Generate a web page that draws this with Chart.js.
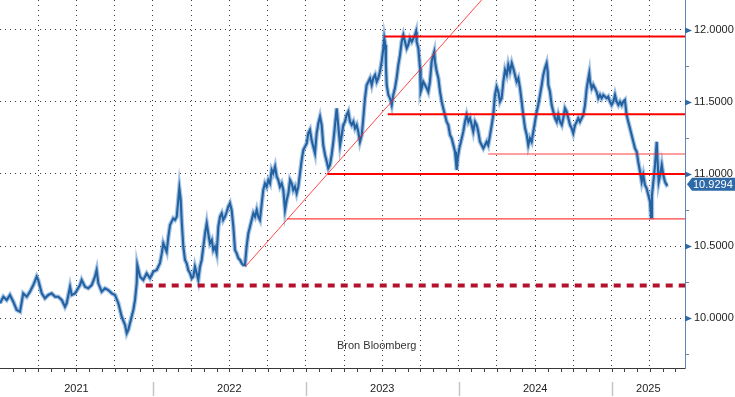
<!DOCTYPE html>
<html>
<head>
<meta charset="utf-8">
<script src="https://cdn.jsdelivr.net/npm/chart.js@4.4.1/dist/chart.umd.min.js"></script>
<style>
  html, body { margin: 0; padding: 0; background: #fff; }
  #wrap { width: 735px; height: 397px; }
</style>
</head>
<body>
<div id="wrap"><canvas id="chart" width="735" height="397"></canvas></div>
<script>
// koersdata (decimale jaren / koers)
const priceDates = [
  2021.000, 2021.022, 2021.044, 2021.065, 2021.087, 2021.109, 2021.131, 2021.152, 2021.175, 2021.196,
  2021.218, 2021.240, 2021.250, 2021.273, 2021.294, 2021.316, 2021.338, 2021.360, 2021.381, 2021.404,
  2021.425, 2021.436, 2021.458, 2021.469, 2021.491, 2021.523, 2021.534, 2021.556, 2021.577, 2021.600,
  2021.621, 2021.632, 2021.643, 2021.665, 2021.687, 2021.708, 2021.731, 2021.752, 2021.774, 2021.785,
  2021.796, 2021.818, 2021.829, 2021.839, 2021.850, 2021.872, 2021.883, 2021.894, 2021.898, 2021.916,
  2021.937, 2021.959, 2021.981, 2022.003, 2022.025, 2022.046, 2022.058, 2022.068, 2022.090, 2022.101,
  2022.112, 2022.133, 2022.145, 2022.156, 2022.166, 2022.173, 2022.182, 2022.188, 2022.199, 2022.210,
  2022.221, 2022.231, 2022.243, 2022.254, 2022.264, 2022.275, 2022.286, 2022.297, 2022.308, 2022.319,
  2022.330, 2022.341, 2022.352, 2022.362, 2022.373, 2022.385, 2022.395, 2022.406, 2022.417, 2022.428,
  2022.439, 2022.450, 2022.460, 2022.472, 2022.483, 2022.493, 2022.504, 2022.515, 2022.526, 2022.537,
  2022.548, 2022.559, 2022.570, 2022.581, 2022.591, 2022.602, 2022.613, 2022.624, 2022.635, 2022.646,
  2022.657, 2022.668, 2022.679, 2022.689, 2022.700, 2022.712, 2022.722, 2022.733, 2022.744, 2022.755,
  2022.766, 2022.777, 2022.787, 2022.799, 2022.810, 2022.820, 2022.831, 2022.842, 2022.853, 2022.864,
  2022.875, 2022.886, 2022.897, 2022.908, 2022.918, 2022.929, 2022.940, 2022.951, 2022.962, 2022.973,
  2022.984, 2022.995, 2023.006, 2023.016, 2023.027, 2023.038, 2023.049, 2023.060, 2023.071, 2023.082,
  2023.093, 2023.104, 2023.114, 2023.126, 2023.137, 2023.147, 2023.158, 2023.169, 2023.180, 2023.191,
  2023.202, 2023.212, 2023.224, 2023.235, 2023.245, 2023.256, 2023.267, 2023.278, 2023.289, 2023.300,
  2023.311, 2023.322, 2023.333, 2023.343, 2023.354, 2023.366, 2023.376, 2023.387, 2023.398, 2023.409,
  2023.420, 2023.431, 2023.441, 2023.453, 2023.464, 2023.474, 2023.485, 2023.496, 2023.507, 2023.513,
  2023.520, 2023.524, 2023.529, 2023.540, 2023.551, 2023.562, 2023.572, 2023.583, 2023.594, 2023.605,
  2023.616, 2023.627, 2023.638, 2023.649, 2023.660, 2023.670, 2023.681, 2023.693, 2023.703, 2023.714,
  2023.721, 2023.725, 2023.736, 2023.747, 2023.751, 2023.758, 2023.768, 2023.780, 2023.791, 2023.801,
  2023.812, 2023.823, 2023.834, 2023.840, 2023.845, 2023.856, 2023.867, 2023.878, 2023.889, 2023.899,
  2023.910, 2023.921, 2023.932, 2023.943, 2023.954, 2023.965, 2023.976, 2023.982, 2023.987, 2023.993,
  2024.004, 2024.020, 2024.030, 2024.041, 2024.052, 2024.063, 2024.074, 2024.085, 2024.095, 2024.107,
  2024.118, 2024.128, 2024.139, 2024.150, 2024.161, 2024.172, 2024.183, 2024.193, 2024.205, 2024.216,
  2024.226, 2024.237, 2024.248, 2024.259, 2024.270, 2024.281, 2024.292, 2024.303, 2024.314, 2024.324,
  2024.335, 2024.347, 2024.357, 2024.368, 2024.379, 2024.390, 2024.401, 2024.412, 2024.422, 2024.434,
  2024.445, 2024.455, 2024.466, 2024.477, 2024.488, 2024.499, 2024.510, 2024.520, 2024.532, 2024.543,
  2024.553, 2024.564, 2024.575, 2024.582, 2024.586, 2024.597, 2024.608, 2024.619, 2024.630, 2024.641,
  2024.651, 2024.663, 2024.674, 2024.684, 2024.695, 2024.706, 2024.717, 2024.728, 2024.739, 2024.749,
  2024.761, 2024.772, 2024.782, 2024.793, 2024.804, 2024.815, 2024.826, 2024.837, 2024.848, 2024.854,
  2024.859, 2024.870, 2024.880, 2024.891, 2024.902, 2024.913, 2024.924, 2024.935, 2024.946, 2024.957,
  2024.968, 2024.978, 2024.989, 2025.000, 2025.011, 2025.022, 2025.033, 2025.044, 2025.055, 2025.066,
  2025.076, 2025.087, 2025.098, 2025.109, 2025.120, 2025.131, 2025.142, 2025.153, 2025.164, 2025.174,
  2025.186, 2025.197, 2025.207, 2025.218, 2025.229, 2025.240, 2025.251, 2025.258, 2025.264, 2025.273,
  2025.284, 2025.295, 2025.301, 2025.308, 2025.317, 2025.328, 2025.338, 2025.349, 2025.360, 2025.367
];
const priceValues = [
  10.102, 10.148, 10.125, 10.160, 10.113, 10.056, 10.044, 10.171, 10.148, 10.183,
  10.229, 10.287, 10.264, 10.171, 10.137, 10.160, 10.171, 10.148, 10.148, 10.125,
  10.078, 10.102, 10.217, 10.160, 10.171, 10.229, 10.264, 10.217, 10.206, 10.229,
  10.287, 10.333, 10.241, 10.183, 10.206, 10.194, 10.171, 10.160, 10.102, 10.056,
  10.009, 9.951, 9.894, 9.917, 9.963, 10.056, 10.125, 10.241, 10.368, 10.287,
  10.264, 10.310, 10.276, 10.322, 10.333, 10.380, 10.449, 10.519, 10.460, 10.564,
  10.646, 10.692, 10.681, 10.704, 10.819, 10.901, 10.819, 10.681, 10.495, 10.403,
  10.380, 10.333, 10.310, 10.276, 10.287, 10.356, 10.310, 10.264, 10.356, 10.403,
  10.495, 10.588, 10.658, 10.588, 10.519, 10.542, 10.472, 10.495, 10.449, 10.634,
  10.704, 10.727, 10.681, 10.704, 10.738, 10.773, 10.797, 10.750, 10.634, 10.472,
  10.449, 10.415, 10.403, 10.380, 10.368, 10.368, 10.495, 10.588, 10.634, 10.681,
  10.727, 10.704, 10.750, 10.704, 10.681, 10.797, 10.889, 10.935, 10.912, 10.958,
  10.935, 11.028, 11.005, 11.051, 10.981, 10.958, 10.912, 10.935, 10.889, 10.750,
  10.819, 10.866, 10.958, 10.935, 10.889, 10.912, 10.866, 10.912, 11.005, 11.097,
  11.167, 11.190, 11.213, 11.283, 11.306, 11.236, 11.190, 11.144, 11.283, 11.352,
  11.398, 11.340, 11.201, 11.132, 11.085, 11.040, 11.063, 11.132, 11.224, 11.340,
  11.456, 11.340, 11.201, 11.271, 11.340, 11.363, 11.410, 11.433, 11.363, 11.340,
  11.363, 11.317, 11.340, 11.294, 11.224, 11.271, 11.387, 11.526, 11.618, 11.641,
  11.665, 11.618, 11.665, 11.688, 11.641, 11.665, 11.711, 11.780, 11.873, 11.942,
  11.896, 11.757, 11.618, 11.549, 11.526, 11.479, 11.549, 11.595, 11.665, 11.757,
  11.826, 11.919, 11.965, 11.919, 11.873, 11.896, 11.942, 11.919, 11.942, 11.965,
  11.988, 11.919, 11.873, 11.734, 11.571, 11.595, 11.641, 11.618, 11.595, 11.571,
  11.641, 11.780, 11.826, 11.849, 11.780, 11.711, 11.665, 11.571, 11.502, 11.456,
  11.410, 11.363, 11.340, 11.271, 11.248, 11.201, 11.155, 11.085, 11.028, 11.109,
  11.178, 11.248, 11.294, 11.363, 11.410, 11.363, 11.387, 11.340, 11.294, 11.363,
  11.340, 11.294, 11.224, 11.201, 11.178, 11.201, 11.224, 11.201, 11.271, 11.340,
  11.410, 11.549, 11.606, 11.571, 11.502, 11.526, 11.641, 11.722, 11.688, 11.757,
  11.711, 11.769, 11.734, 11.688, 11.641, 11.665, 11.595, 11.502, 11.410, 11.317,
  11.271, 11.201, 11.248, 11.224, 11.294, 11.363, 11.433, 11.479, 11.549, 11.618,
  11.688, 11.734, 11.769, 11.711, 11.618, 11.571, 11.479, 11.433, 11.387, 11.363,
  11.410, 11.363, 11.340, 11.387, 11.456, 11.433, 11.387, 11.340, 11.317, 11.283,
  11.340, 11.363, 11.387, 11.363, 11.387, 11.410, 11.479, 11.595, 11.665, 11.699,
  11.641, 11.595, 11.618, 11.595, 11.571, 11.526, 11.549, 11.526, 11.549, 11.537,
  11.526, 11.537, 11.502, 11.479, 11.502, 11.549, 11.502, 11.479, 11.502, 11.479,
  11.502, 11.514, 11.410, 11.363, 11.317, 11.271, 11.224, 11.178, 11.155, 11.085,
  11.016, 10.946, 10.993, 10.924, 10.901, 10.854, 10.808, 10.700, 10.854, 10.946,
  11.063, 11.224, 11.085, 10.946, 10.993, 11.063, 10.993, 10.946, 10.924, 10.9294
];

// horizontale niveaus (waarde, startdatum)
const levelValues = [11.955, 11.415, 11.139, 11.000, 10.688];
const levelStarts = [2023.518, 2023.536, 2024.193, 2023.141, 2022.875];
const supportValue = 10.226;
const supportStart = 2021.953;
const trendDates = [2022.604, 2024.350];
const trendValues = [10.356, 12.448];

const lastPrice = 10.9294;
const yearLabels = ['2021', '2022', '2023', '2024', '2025'];
const xGridTicks = [2021.25, 2021.5, 2021.75, 2022, 2022.25, 2022.5, 2022.75, 2023, 2023.25,
  2023.5, 2023.75, 2024, 2024.25, 2024.5, 2024.75, 2025, 2025.25];
const yTickValues = [9.75, 10.0, 10.25, 10.5, 10.75, 11.0, 11.25, 11.5, 11.75, 12.0];
const sourceText = 'Bron Bloomberg';

const xMin = 2021.0, xMax = 2025.48;
const yMin = 9.6528, yMax = 12.2083;
const FONT = "'Liberation Sans', Arial, sans-serif";

const isMajor = v => Math.abs(v * 2 - Math.round(v * 2)) < 1e-6;

// lijnen boven de koers: trendlijn, niveaus, steun
const thickLevels = [true, true, false, true, false];
const datasets = [];
datasets.push({
    data: trendDates.map((t, i) => ({ x: t, y: trendValues[i] })),
    borderColor: 'rgba(255,40,40,0.85)',
    borderWidth: 1
});
levelValues.forEach((v, i) => {
    datasets.push({
        data: [{ x: levelStarts[i], y: v }, { x: xMax, y: v }],
        borderColor: thickLevels[i] ? '#ff0000' : 'rgba(255,30,30,0.85)',
        borderWidth: thickLevels[i] ? 2 : 1.2
    });
});
datasets.push({
    data: [{ x: supportStart, y: supportValue }, { x: xMax, y: supportValue }],
    borderColor: '#b3122e',
    borderWidth: 4,
    borderDash: [7, 6]
});
datasets.push({
    data: priceDates.map((t, i) => ({ x: t, y: priceValues[i] })),
    borderColor: '#2361a1',
    borderWidth: 2.1
});
datasets.push({
    data: priceDates.map((t, i) => ({ x: t, y: priceValues[i] })),
    borderColor: 'rgba(105,155,208,0.6)',
    borderWidth: 4.5
});

// as-decoraties, jaartallen, laatste koers en bron
const decorations = {
    id: 'decorations',
    afterDraw(chart) {
        const { ctx, chartArea: a, scales: { x, y } } = chart;
        ctx.save();

        // maand-streepjes onder de x-as
        ctx.strokeStyle = '#444';
        ctx.lineWidth = 1;
        for (let yr = 2021; yr <= 2025; yr++) {
            for (let m = 0; m < 12; m++) {
                const t = yr + m / 12;
                if (t <= xMin || t >= xMax) continue;
                const px = Math.round(x.getPixelForValue(t)) + 0.5;
                ctx.beginPath();
                ctx.moveTo(px, a.bottom);
                ctx.lineTo(px, a.bottom + 4);
                ctx.stroke();
            }
        }

        // jaarscheidingen en labels
        ctx.font = '11px ' + FONT;
        ctx.fillStyle = '#222';
        ctx.textAlign = 'center';
        ctx.textBaseline = 'middle';
        yearLabels.forEach(label => {
            const yr = Number(label);
            const from = Math.max(yr, xMin), to = Math.min(yr + 1, xMax);
            const px0 = x.getPixelForValue(from), px1 = x.getPixelForValue(to);
            ctx.fillText(label, (px0 + px1) / 2, a.bottom + 21);
            if (yr > xMin) {
                ctx.strokeStyle = '#c4c4c4';
                ctx.lineWidth = 1.5;
                ctx.beginPath();
                ctx.moveTo(Math.round(px0) + 0.5, a.bottom + 14);
                ctx.lineTo(Math.round(px0) + 0.5, a.bottom + 28);
                ctx.stroke();
            }
        });

        // markeringen op de rechter as
        yTickValues.forEach(v => {
            const py = Math.round(y.getPixelForValue(v)) + 0.5;
            if (isMajor(v)) {
                ctx.fillStyle = '#2f68a7';
                ctx.beginPath();
                ctx.moveTo(a.right, py - 3);
                ctx.lineTo(a.right + 7, py);
                ctx.lineTo(a.right, py + 3);
                ctx.closePath();
                ctx.fill();
            } else {
                ctx.strokeStyle = '#5d86b9';
                ctx.lineWidth = 1;
                ctx.beginPath();
                ctx.moveTo(a.right, py);
                ctx.lineTo(a.right + 4, py);
                ctx.stroke();
            }
        });

        // laatste koers
        const ly = y.getPixelForValue(lastPrice);
        ctx.fillStyle = '#2f6aa8';
        ctx.beginPath();
        ctx.moveTo(a.right + 2, ly);
        ctx.lineTo(a.right + 7, ly - 6.5);
        ctx.lineTo(735, ly - 6.5);
        ctx.lineTo(735, ly + 6.5);
        ctx.lineTo(a.right + 7, ly + 6.5);
        ctx.closePath();
        ctx.fill();
        ctx.fillStyle = '#fff';
        ctx.textAlign = 'left';
        ctx.font = '11px ' + FONT;
        ctx.fillText(lastPrice.toFixed(4), a.right + 8, ly + 0.5);

        // bron
        ctx.fillStyle = '#333';
        ctx.fillText(sourceText, 337, 346);

        ctx.restore();
    }
};

new Chart(document.getElementById('chart'), {
    type: 'line',
    data: { datasets: datasets },
    options: {
        responsive: false,
        animation: false,
        events: [],
        layout: { padding: 0 },
        elements: { point: { radius: 0 }, line: { tension: 0 } },
        plugins: { legend: { display: false }, tooltip: { enabled: false } },
        scales: {
            x: {
                type: 'linear',
                min: xMin,
                max: xMax,
                afterBuildTicks: s => { s.ticks = xGridTicks.map(v => ({ value: v })); },
                afterFit: s => { s.height = 29; s.paddingLeft = 0; s.paddingRight = 0; },
                ticks: { display: false },
                grid: { color: '#3a3a3a', lineWidth: 1, drawTicks: false },
                border: { color: '#3a3a3a', width: 1, dash: [1, 4] }
            },
            y: {
                type: 'linear',
                position: 'right',
                min: yMin,
                max: yMax,
                afterBuildTicks: s => { s.ticks = yTickValues.map(v => ({ value: v })); },
                afterFit: s => { s.width = 50; s.paddingTop = 0; s.paddingBottom = 0; },
                ticks: {
                    autoSkip: false,
                    padding: 9,
                    color: '#222',
                    font: { family: FONT, size: 11 },
                    callback: v => isMajor(v) ? v.toFixed(4) : ''
                },
                grid: {
                    drawTicks: false,
                    lineWidth: 1,
                    color: c => (c.tick && isMajor(c.tick.value)) ? '#3a3a3a' : 'rgba(0,0,0,0)'
                },
                border: { color: '#5d86b9', width: 1, dash: [1, 4] }
            }
        }
    },
    plugins: [decorations]
});
</script>
</body>
</html>
